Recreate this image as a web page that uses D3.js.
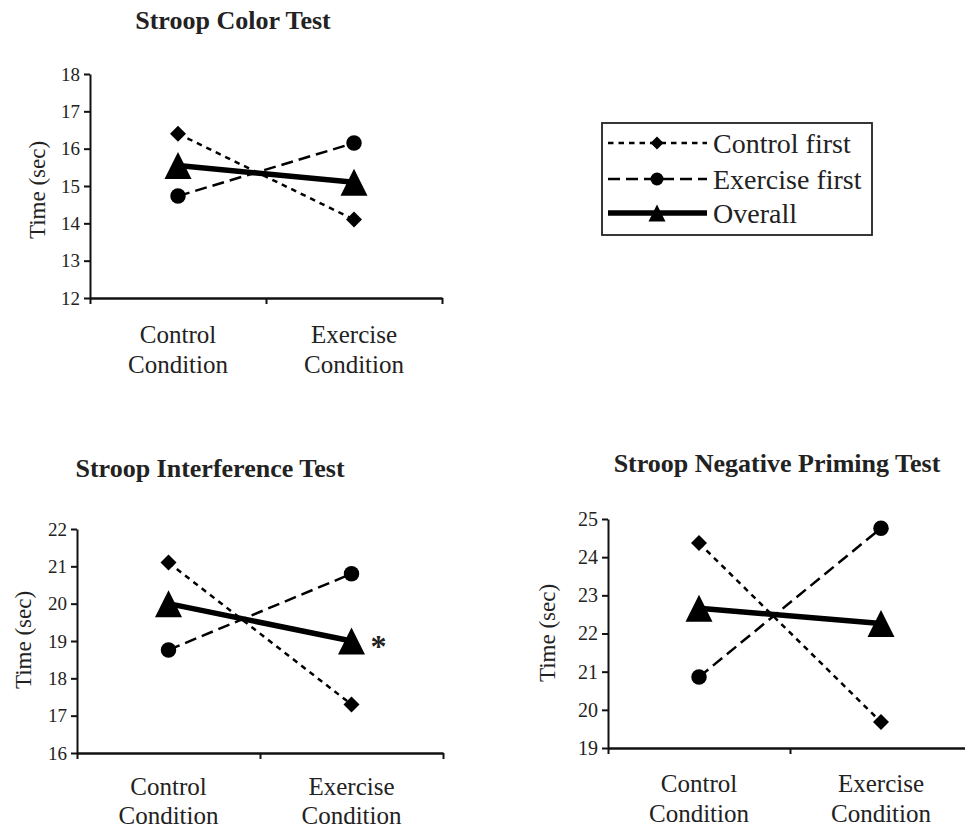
<!DOCTYPE html>
<html>
<head>
<meta charset="utf-8">
<script src="https://cdn.jsdelivr.net/npm/d3@7"></script>
<style>
  html, body { margin: 0; padding: 0; background: #fff; }
  svg { display: block; }
  text { font-family: "Liberation Serif", "Times New Roman", "DejaVu Serif", serif; fill: #222; }
</style>
</head>
<body>
<svg id="chart" width="965" height="831"></svg>
<script>
// ---------------- DATA ----------------
const categories = ["Control Condition", "Exercise Condition"];
const seriesNames = ["Control first", "Exercise first", "Overall"];

const titles = ["Stroop Color Test", "Stroop Interference Test", "Stroop Negative Priming Test"];
const yLabel = "Time (sec)";

const colorTicks = [12, 13, 14, 15, 16, 17, 18];
const colorControlFirst = [16.4, 14.1];
const colorExerciseFirst = [14.73, 16.15];
const colorOverall = [15.55, 15.1];

const interferenceTicks = [16, 17, 18, 19, 20, 21, 22];
const interferenceControlFirst = [21.1, 17.3];
const interferenceExerciseFirst = [18.76, 20.8];
const interferenceOverall = [20.0, 19.0];
const interferenceMarks = ["", "*"];   // significance marks next to Overall

const primingTicks = [19, 20, 21, 22, 23, 24, 25];
const primingControlFirst = [24.37, 19.68];
const primingExerciseFirst = [20.86, 24.76];
const primingOverall = [22.66, 22.26];

// ---------------- LAYOUT ----------------
const panels = [
  { title: titles[0], ticks: colorTicks, series: [colorControlFirst, colorExerciseFirst, colorOverall], marks: ["", ""],
    left: 90, right: 442, top: 74, bottom: 298, tickFont: 19,
    titleX: 233, titleY: 29, yLabX: 37, yLabY: 190, catY1: 343, catY2: 373 },
  { title: titles[1], ticks: interferenceTicks, series: [interferenceControlFirst, interferenceExerciseFirst, interferenceOverall], marks: interferenceMarks,
    left: 77, right: 443, top: 529, bottom: 753, tickFont: 19,
    titleX: 210, titleY: 477, yLabX: 23, yLabY: 640, catY1: 795, catY2: 824 },
  { title: titles[2], ticks: primingTicks, series: [primingControlFirst, primingExerciseFirst, primingOverall], marks: ["", ""],
    left: 608, right: 972, top: 519, bottom: 748, tickFont: 20,
    titleX: 777, titleY: 472, yLabX: 547, yLabY: 633, catY1: 792, catY2: 822 }
];

const styles = [
  { width: 2.5, dash: "5.5,5", marker: "diamond", size: 16 },
  { width: 2.5, dash: "12,6", marker: "circle", size: 15.5 },
  { width: 5.5, dash: null, marker: "triangle", size: 27 }
];

function markerPath(type, s) {
  const h = s / 2;
  if (type === "diamond") return `M0,${-h}L${h},0L0,${h}L${-h},0Z`;
  if (type === "triangle") return `M0,${-h}L${h},${h}L${-h},${h}Z`;
  const p = d3.path(); p.arc(0, 0, h, 0, 2 * Math.PI); return p.toString();
}

const svg = d3.select("#chart");

panels.forEach(p => {
  const g = svg.append("g");
  const y = d3.scaleLinear().domain([p.ticks[0], p.ticks[p.ticks.length - 1]]).range([p.bottom, p.top]);
  const xb = d3.scaleBand().domain(categories).range([p.left, p.right]).padding(0);
  const xl = d3.scaleLinear().domain([0, categories.length]).range([p.left, p.right]);

  // title
  g.append("text").attr("x", p.titleX).attr("y", p.titleY).attr("text-anchor", "middle")
    .attr("font-size", 26).attr("font-weight", "bold").text(p.title);

  // y axis
  const ya = g.append("g").attr("transform", `translate(${p.left},0)`)
    .call(d3.axisLeft(y).tickValues(p.ticks).tickSize(6).tickSizeOuter(0).tickPadding(4).tickFormat(d3.format("d")));
  ya.attr("font-family", null);
  ya.select(".domain").attr("stroke", "#111").attr("stroke-width", 2);
  ya.selectAll(".tick line").attr("stroke", "#111").attr("stroke-width", 2);
  ya.selectAll(".tick text").attr("font-size", p.tickFont).attr("fill", "#222");

  // x axis
  const xa = g.append("g").attr("transform", `translate(0,${p.bottom})`)
    .call(d3.axisBottom(xl).tickValues(d3.range(categories.length + 1)).tickSize(6).tickSizeOuter(0).tickFormat(""));
  xa.select(".domain").attr("stroke", "#111").attr("stroke-width", 2.5);
  xa.selectAll(".tick line").attr("stroke", "#111").attr("stroke-width", 2);

  // category labels
  categories.forEach(c => {
    const parts = c.split(" ");
    const cx = xb(c) + xb.bandwidth() / 2;
    g.append("text").attr("x", cx).attr("y", p.catY1).attr("text-anchor", "middle").attr("font-size", 25).text(parts[0]);
    g.append("text").attr("x", cx).attr("y", p.catY2).attr("text-anchor", "middle").attr("font-size", 25).text(parts[1]);
  });

  // y label
  g.append("text").attr("transform", `translate(${p.yLabX},${p.yLabY}) rotate(-90)`)
    .attr("text-anchor", "middle").attr("dominant-baseline", "central").attr("font-size", 23).text(yLabel);

  // series
  p.series.forEach((vals, si) => {
    const st = styles[si];
    const pts = vals.map((v, i) => [xb(categories[i]) + xb.bandwidth() / 2, y(v)]);
    g.append("path").attr("d", d3.line()(pts)).attr("fill", "none").attr("stroke", "#000")
      .attr("stroke-width", st.width).attr("stroke-dasharray", st.dash);
    g.selectAll(null).data(pts).enter().append("path")
      .attr("transform", d => `translate(${d[0]},${d[1]})`)
      .attr("d", markerPath(st.marker, st.size)).attr("fill", "#000");
  });

  // significance marks
  p.marks.forEach((m, i) => {
    if (!m) return;
    const v = p.series[2][i];
    g.append("text").attr("x", xb(categories[i]) + xb.bandwidth() / 2 + 27).attr("y", y(v) + 16)
      .attr("text-anchor", "middle").attr("font-size", 32).attr("font-weight", "bold").text(m);
  });
});

// ---------------- LEGEND ----------------
const lg = svg.append("g");
lg.append("rect").attr("x", 602).attr("y", 123).attr("width", 270).attr("height", 112)
  .attr("fill", "none").attr("stroke", "#222").attr("stroke-width", 1.8);
const legendRowY = [143, 179, 213];
const legendMarkerSize = [13, 13, 17];
seriesNames.forEach((name, i) => {
  const st = styles[i];
  const yy = legendRowY[i];
  lg.append("line").attr("x1", 608).attr("x2", 707).attr("y1", yy).attr("y2", yy)
    .attr("stroke", "#000").attr("stroke-width", st.width).attr("stroke-dasharray", st.dash);
  lg.append("path").attr("transform", `translate(657,${yy})`)
    .attr("d", markerPath(st.marker, legendMarkerSize[i])).attr("fill", "#000");
  lg.append("text").attr("x", 713).attr("y", yy + 10).attr("font-size", 28).text(name);
});
</script>
</body>
</html>
